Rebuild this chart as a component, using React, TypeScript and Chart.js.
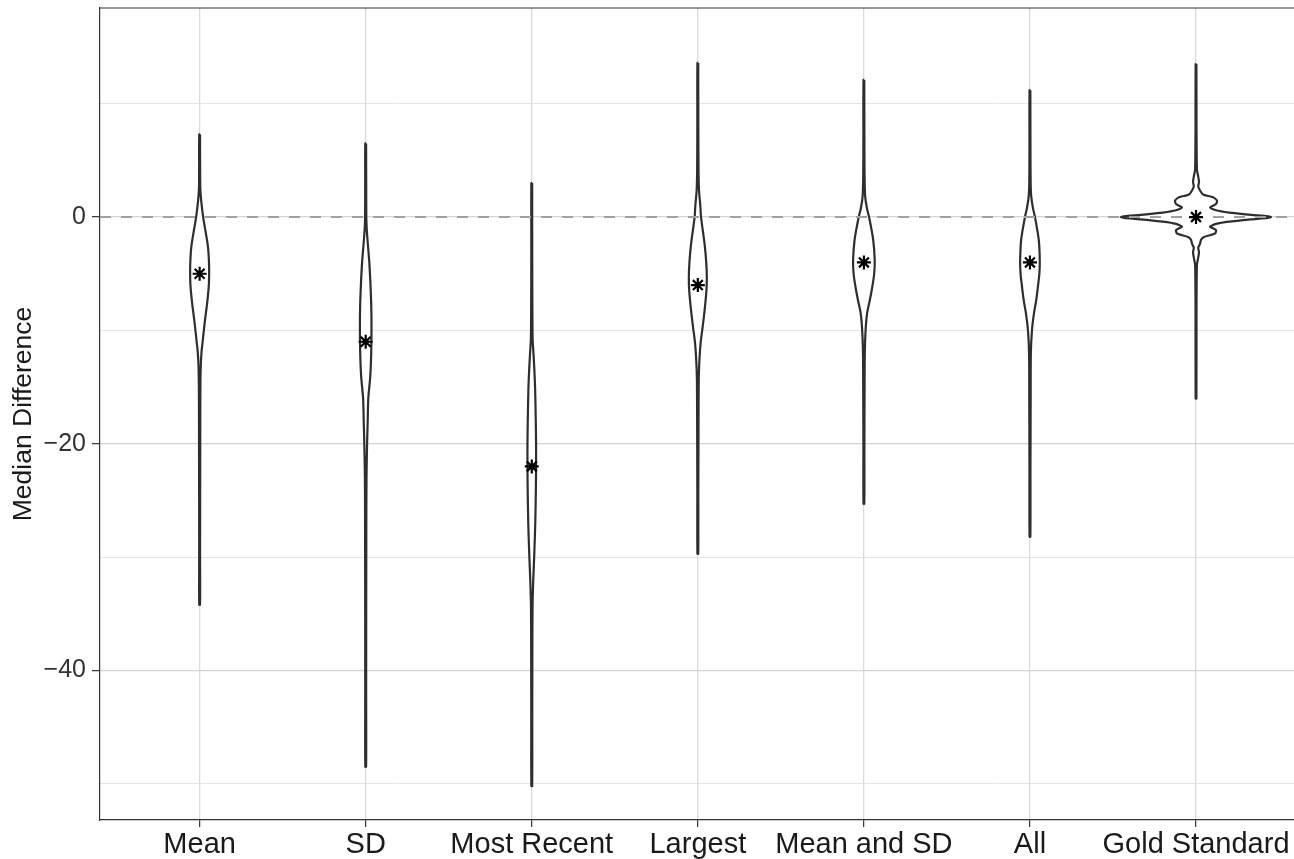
import React, { useEffect, useRef } from "react";
import { Chart, registerables } from "chart.js";

Chart.register(...registerables);

const categories = ["Mean", "SD", "Most Recent", "Largest", "Mean and SD", "All", "Gold Standard"];
const medians = [-5, -11, -22, -6, -4, -4, 0];
const yTicks = [10, 0, -10, -20, -30, -40, -50];
const majorTicks = [0, -20, -40];

// Violin density profiles: y values (top to bottom) and half-widths (category units)
const meanY = [7.3, 4, 2.5, 1.5, 0, -1.3, -2.6, -3.7, -4.7, -6, -7.6, -9, -10, -11, -12, -13.5, -16, -20, -25, -30, -34.2];
const meanW = [0.0024, 0.003, 0.0042, 0.009, 0.0211, 0.0361, 0.05, 0.0554, 0.0572, 0.0554, 0.0452, 0.0331, 0.0253, 0.018, 0.0108, 0.006, 0.0042, 0.0036, 0.003, 0.0027, 0.0024];

const sdY = [6.5, 3, 0, -1, -2, -4, -6, -8, -10, -12, -14, -16, -18, -20, -23, -28, -35, -42, -48.5];
const sdW = [0.0024, 0.003, 0.0036, 0.006, 0.0108, 0.0217, 0.0289, 0.0337, 0.0349, 0.0331, 0.0277, 0.0157, 0.012, 0.0084, 0.0048, 0.0036, 0.003, 0.0027, 0.0024];

const recentY = [3.0, -3, -8, -10.8, -12, -13.5, -15.3, -18, -20, -22, -24, -27, -30, -32, -34.3, -38, -44, -50.2];
const recentW = [0.0024, 0.0027, 0.0036, 0.0054, 0.0102, 0.0157, 0.0205, 0.0241, 0.0259, 0.0259, 0.0247, 0.0211, 0.0145, 0.009, 0.0048, 0.0036, 0.003, 0.0024];

const largestY = [13.6, 8, 4, 2.35, 1, 0, -2.4, -4, -5.3, -6.5, -8.2, -9.7, -11.1, -12.8, -14.4, -18, -24, -29.7];
const largestW = [0.0024, 0.003, 0.0042, 0.0072, 0.015, 0.0193, 0.041, 0.0506, 0.0542, 0.0518, 0.041, 0.0289, 0.0169, 0.009, 0.0054, 0.0042, 0.003, 0.0024];

const meanSdY = [12.1, 7, 3.5, 1.8, 0.8, 0, -2, -3.8, -5, -6.1, -7.3, -8.5, -10, -12, -15, -20, -25.3];
const meanSdW = [0.0024, 0.003, 0.0042, 0.0078, 0.018, 0.0313, 0.056, 0.0651, 0.062, 0.0512, 0.0361, 0.0193, 0.0102, 0.0054, 0.0042, 0.003, 0.0024];

const allY = [11.2, 6, 3, 1.8, 0.8, 0, -2, -3.8, -5, -6.1, -7.3, -8.5, -10, -12, -16, -22, -28.2];
const allW = [0.0024, 0.003, 0.0042, 0.0078, 0.018, 0.0301, 0.053, 0.059, 0.0566, 0.0482, 0.038, 0.0241, 0.012, 0.0054, 0.0042, 0.003, 0.0024];

const goldY = [13.5, 8, 4.2, 3.6, 3.1, 2.7, 2.35, 2.0, 1.75, 1.45, 1.15, 0.85, 0.6, 0.4, 0.2, 0.07, 0, -0.07, -0.2, -0.4, -0.6, -0.85, -1.15, -1.45, -1.75, -2.0, -2.35, -2.7, -3.1, -3.6, -4.2, -8, -16];
const goldW = [0.0024, 0.003, 0.0054, 0.013, 0.0181, 0.0133, 0.0241, 0.0422, 0.1024, 0.1265, 0.1205, 0.0843, 0.1205, 0.1988, 0.3313, 0.4337, 0.4518, 0.4337, 0.3313, 0.1988, 0.1205, 0.0843, 0.1205, 0.1145, 0.0482, 0.0301, 0.0241, 0.0133, 0.0181, 0.013, 0.0054, 0.003, 0.0024];

const profiles = [
  [meanY, meanW],
  [sdY, sdW],
  [recentY, recentW],
  [largestY, largestW],
  [meanSdY, meanSdW],
  [allY, allW],
  [goldY, goldW],
];

const FONT = "'Liberation Sans', Arial, Helvetica, sans-serif";

function outline(ys: number[], ws: number[], center: number) {
  const right = ys.map((y, i) => ({ x: center + ws[i], y }));
  const left = ys.map((y, i) => ({ x: center - ws[i], y })).reverse();
  return [...right, ...left, right[0]];
}

export default function App() {
  const ref = useRef<HTMLCanvasElement | null>(null);

  useEffect(() => {
    document.body.style.margin = "0";
    document.body.style.overflow = "hidden";
    const canvas = ref.current;
    if (!canvas) return;

    const violinSets = profiles.map(([ys, ws], i) => ({
      type: "scatter" as const,
      data: outline(ys, ws, i + 1),
      showLine: true,
      borderColor: "#2e2e2e",
      borderWidth: 2.2,
      backgroundColor: "#ffffff",
      fill: "shape" as any,
      pointRadius: 0,
      tension: i === 6 ? 0.2 : 0.3,
      order: 3,
    }));

    const zeroLine = {
      type: "scatter" as const,
      data: [
        { x: 0.4, y: 0 },
        { x: 7.59, y: 0 },
      ],
      showLine: true,
      borderColor: "#a0a0a0",
      borderWidth: 2,
      borderDash: [11, 10],
      pointRadius: 0,
      fill: false,
      order: 2,
    };

    const stars = {
      type: "scatter" as const,
      data: medians.map((m, i) => ({ x: i + 1, y: m })),
      showLine: false,
      pointStyle: "star" as const,
      pointRadius: 7,
      pointBorderColor: "#000000",
      pointBackgroundColor: "#000000",
      pointBorderWidth: 2.2,
      order: 1,
    };

    const topBorder = {
      id: "topBorder",
      afterDraw(chart: any) {
        const { ctx, chartArea } = chart;
        ctx.save();
        ctx.strokeStyle = "#333333";
        ctx.lineWidth = 1.2;
        ctx.beginPath();
        ctx.moveTo(chartArea.left, chartArea.top);
        ctx.lineTo(chartArea.right, chartArea.top);
        ctx.stroke();
        ctx.restore();
      },
    };

    const chart = new Chart(canvas, {
      type: "scatter",
      data: { datasets: [...violinSets, zeroLine, stars] as any },
      plugins: [topBorder],
      options: {
        animation: false,
        responsive: false,
        maintainAspectRatio: false,
        layout: { autoPadding: false, padding: { top: 8, left: 0, right: 0, bottom: 0 } },
        plugins: {
          legend: { display: false },
          tooltip: { enabled: false },
        },
        scales: {
          x: {
            type: "linear",
            min: 0.4,
            max: 7.59,
            afterBuildTicks: (s: any) => {
              s.ticks = categories.map((_, i) => ({ value: i + 1 }));
            },
            afterFit: (s: any) => {
              s.height = 39;
              s.paddingLeft = 0;
              s.paddingRight = 0;
            },
            ticks: {
              callback: (v: any) => categories[Math.round(Number(v)) - 1] ?? "",
              font: { family: FONT, size: 29 },
              color: "#1a1a1a",
              padding: 1,
              maxRotation: 0,
              autoSkip: false,
            },
            grid: {
              color: "#dadada",
              lineWidth: 1.3,
              tickLength: 7,
              tickColor: "#333333",
              tickWidth: 1.2,
            },
            border: { display: true, color: "#333333", width: 1.2 },
          },
          y: {
            type: "linear",
            min: -53.2,
            max: 18.45,
            afterBuildTicks: (s: any) => {
              s.ticks = yTicks.map((v) => ({ value: v }));
            },
            afterFit: (s: any) => {
              s.width = 100;
              s.paddingTop = 0;
              s.paddingBottom = 0;
            },
            ticks: {
              callback: (v: any) => {
                const n = Number(v);
                if (!majorTicks.includes(n)) return "";
                return n < 0 ? "\u2212" + Math.abs(n) : String(n);
              },
              font: { family: FONT, size: 25 },
              color: "#333333",
              padding: 6,
              autoSkip: false,
            },
            grid: {
              color: (c: any) => (majorTicks.includes(c.tick?.value) ? "#d4d4d4" : "#e2e2e2"),
              lineWidth: (c: any) => (majorTicks.includes(c.tick?.value) ? 1.3 : 0.9),
              tickLength: 8,
              tickColor: (c: any) => (majorTicks.includes(c.tick?.value) ? "#333333" : "rgba(0,0,0,0)"),
              tickWidth: 1.2,
            },
            border: { display: true, color: "#333333", width: 1.2 },
            title: {
              display: true,
              text: "Median Difference",
              font: { family: FONT, size: 26.5 },
              color: "#1a1a1a",
              padding: { top: 8, bottom: 0 },
            },
          },
        },
      },
    });

    return () => chart.destroy();
  }, []);

  return (
    <div style={{ width: 1294, height: 859, position: "relative", overflow: "hidden" }}>
      <canvas ref={ref} width={1294} height={859} style={{ display: "block", width: 1294, height: 859 }} />
    </div>
  );
}
